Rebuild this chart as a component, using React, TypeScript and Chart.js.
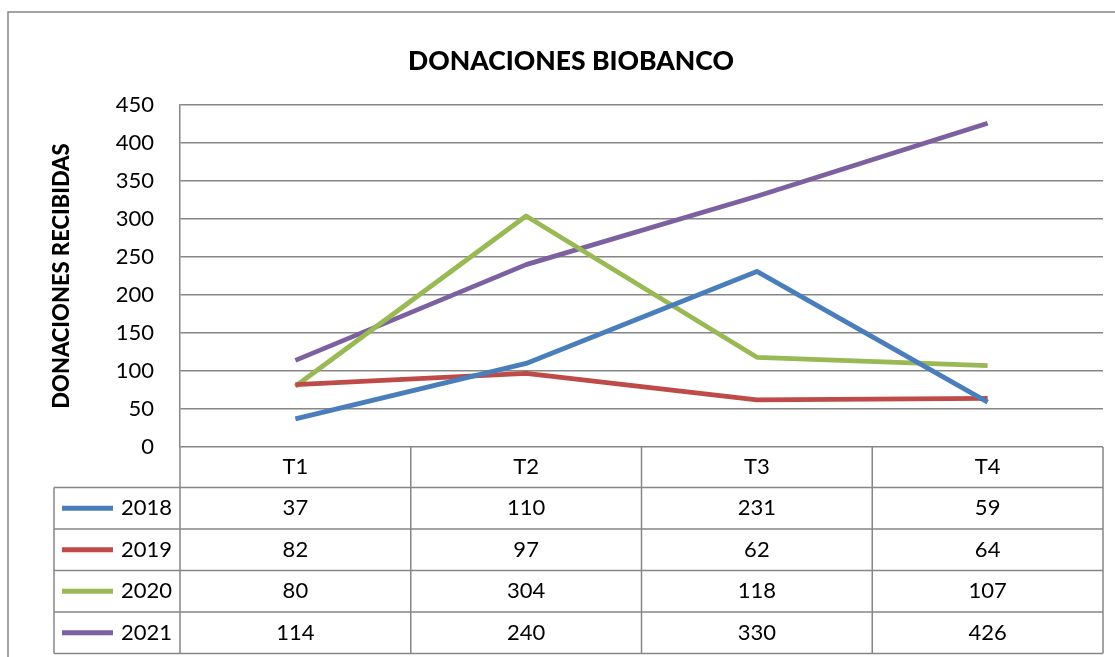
import React, { useEffect, useRef } from "react";
import { Chart, registerables } from "chart.js";

Chart.register(...registerables);

const chartTitle = "DONACIONES BIOBANCO";
const yAxisTitle = "DONACIONES RECIBIDAS";
const categories = ["T1", "T2", "T3", "T4"];
const seriesNames = ["2018", "2019", "2020", "2021"];
const values2018 = [37, 110, 231, 59];
const values2019 = [82, 97, 62, 64];
const values2020 = [80, 304, 118, 107];
const values2021 = [114, 240, 330, 426];
const seriesColors = ["#4A7EBB", "#BE4B48", "#98B954", "#7D60A0"];
const yMin = 0;
const yMax = 450;
const yStep = 50;

const FONT = "Lato";
const GRID = "#868686";

const allValues = [values2018, values2019, values2020, values2021];

const frameAndTable = {
  id: "frameAndTable",
  beforeDraw(chart: any) {
    const { ctx, width, height } = chart;
    ctx.save();
    ctx.fillStyle = "#ffffff";
    ctx.fillRect(0, 0, width, height);
    ctx.strokeStyle = GRID;
    ctx.lineWidth = 1.5;
    ctx.beginPath();
    ctx.moveTo(8, height + 5);
    ctx.lineTo(8, 12);
    ctx.lineTo(width + 5, 12);
    ctx.stroke();
    ctx.restore();
  },
  afterDraw(chart: any) {
    const { ctx, chartArea } = chart;
    const xs = chart.scales.x;
    const left = chartArea.left;
    const right = chartArea.right;
    const top = chartArea.bottom;
    const headerH = 40.6;
    const rowH = 41.5;
    const headerBottom = top + headerH;
    const tableBottom = headerBottom + rowH * seriesNames.length;
    const labelLeft = 54;
    const colW = (right - left) / categories.length;

    ctx.save();
    ctx.strokeStyle = GRID;
    ctx.lineWidth = 1.5;
    ctx.beginPath();
    for (let i = 0; i <= categories.length; i++) {
      const x = left + i * colW;
      ctx.moveTo(x, top);
      ctx.lineTo(x, tableBottom);
    }
    ctx.moveTo(labelLeft, headerBottom);
    ctx.lineTo(labelLeft, tableBottom);
    for (let k = 0; k <= seriesNames.length; k++) {
      const y = headerBottom + k * rowH;
      ctx.moveTo(labelLeft, y);
      ctx.lineTo(right, y);
    }
    ctx.stroke();

    ctx.fillStyle = "#000000";
    ctx.font = `22px ${FONT}`;
    ctx.textBaseline = "middle";
    ctx.textAlign = "center";
    categories.forEach((c, i) => {
      ctx.fillText(c, xs.getPixelForValue(i), top + headerH / 2);
    });
    seriesNames.forEach((name, k) => {
      const yMid = headerBottom + k * rowH + rowH / 2;
      ctx.strokeStyle = seriesColors[k];
      ctx.lineWidth = 5;
      ctx.beginPath();
      ctx.moveTo(62, yMid);
      ctx.lineTo(113, yMid);
      ctx.stroke();
      ctx.fillStyle = "#000000";
      ctx.textAlign = "left";
      ctx.fillText(name, 121, yMid);
      ctx.textAlign = "center";
      allValues[k].forEach((v, i) => {
        ctx.fillText(String(v), xs.getPixelForValue(i), yMid);
      });
    });
    ctx.restore();
  },
};

export default function App() {
  const ref = useRef<HTMLCanvasElement | null>(null);
  useEffect(() => {
    if (!ref.current) return;
    const chart = new Chart(ref.current, {
      type: "line",
      data: {
        labels: categories,
        datasets: seriesNames.map((name, k) => ({
          label: name,
          data: allValues[k],
          borderColor: seriesColors[k],
          backgroundColor: seriesColors[k],
          borderWidth: 4.8,
          pointRadius: 0,
          tension: 0,
          borderJoinStyle: "round" as const,
          fill: false,
        })),
      },
      options: {
        responsive: false,
        animation: false,
        layout: { padding: { left: 39, right: 12, top: 0, bottom: 210 } },
        plugins: {
          legend: { display: false },
          tooltip: { enabled: false },
          title: {
            display: true,
            text: chartTitle,
            color: "#000000",
            font: { family: FONT, size: 26.5, weight: "900" },
            padding: { top: 45.1, bottom: 28.1 },
          },
        },
        scales: {
          x: {
            type: "category",
            display: false,
            offset: true,
          },
          y: {
            min: yMin,
            max: yMax,
            afterFit: (scale: any) => {
              scale.width = 141;
            },
            ticks: {
              stepSize: yStep,
              color: "#000000",
              font: { family: FONT, size: 22 },
              padding: 26,
            },
            grid: { color: GRID, lineWidth: 1.5, drawTicks: false },
            border: { display: true, color: GRID, width: 1.5 },
            title: {
              display: true,
              text: yAxisTitle,
              color: "#000000",
              font: { family: FONT, size: 22, weight: "900" },
              padding: { top: 9.8, bottom: 0 },
            },
          },
        },
      },
      plugins: [frameAndTable],
    });
    return () => chart.destroy();
  }, []);
  return (
    <div style={{ position: "absolute", left: 0, top: 0, width: 1115, height: 657 }}>
      <canvas ref={ref} width={1115} height={657} style={{ display: "block" }} />
    </div>
  );
}
